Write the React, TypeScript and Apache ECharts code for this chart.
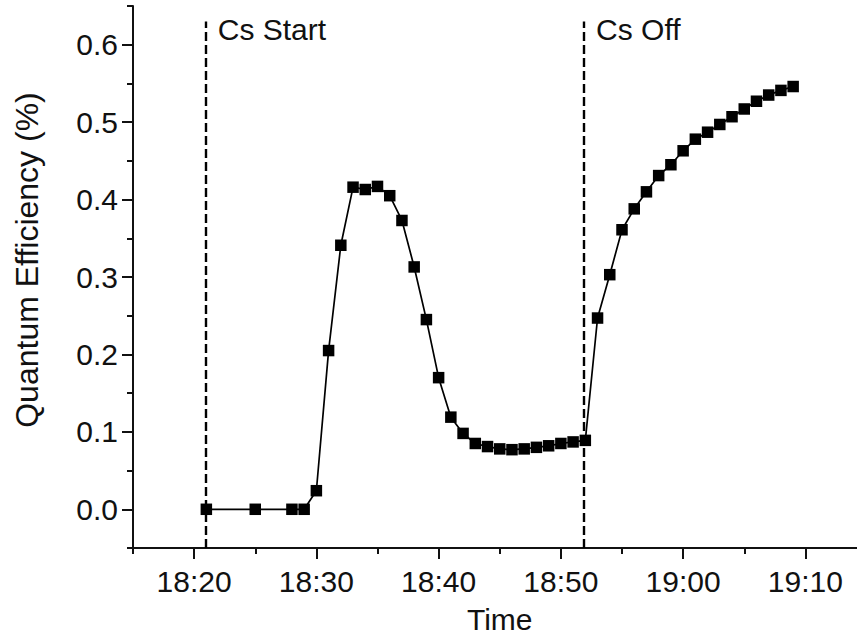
import React, { useEffect, useRef } from "react";
import * as echarts from "echarts";

// Measured time stamps (HH:MM) and quantum efficiency (%) values
const times = [
  "18:21", "18:25", "18:28", "18:29", "18:30", "18:31", "18:32", "18:33", "18:34", "18:35",
  "18:36", "18:37", "18:38", "18:39", "18:40", "18:41", "18:42", "18:43", "18:44", "18:45",
  "18:46", "18:47", "18:48", "18:49", "18:50", "18:51", "18:52", "18:53", "18:54", "18:55",
  "18:56", "18:57", "18:58", "18:59", "19:00", "19:01", "19:02", "19:03", "19:04", "19:05",
  "19:06", "19:07", "19:08", "19:09",
];
const qe = [
  0.0, 0.0, 0.0, 0.0, 0.024, 0.205, 0.341, 0.416, 0.413, 0.417,
  0.405, 0.373, 0.313, 0.245, 0.17, 0.119, 0.098, 0.085, 0.081, 0.078,
  0.077, 0.078, 0.08, 0.082, 0.085, 0.087, 0.089, 0.247, 0.303, 0.361,
  0.388, 0.41, 0.431, 0.445, 0.463, 0.478, 0.487, 0.497, 0.507, 0.517,
  0.527, 0.535, 0.541, 0.546,
];
const xTickLabels = ["18:20", "18:30", "18:40", "18:50", "19:00", "19:10"];
const yTickLabels = [0.0, 0.1, 0.2, 0.3, 0.4, 0.5, 0.6];
const events = [
  { label: "Cs Start", time: "18:20:57" },
  { label: "Cs Off", time: "18:51:54" },
];
const xMinLabel = "18:15";
const xMaxLabel = "19:15";
const yMin = -0.05;
const yMax = 0.65;

const toMin = (t: string) => {
  const p = t.split(":").map(Number);
  return p[0] * 60 + p[1] + (p[2] || 0) / 60;
};
const fmt = (m: number) => {
  const h = Math.floor(Math.round(m) / 60);
  const mm = Math.round(m) % 60;
  return `${h}:${mm < 10 ? "0" : ""}${mm}`;
};

const FONT = "'Liberation Sans', Arial, sans-serif";
const INK = "#111";
const FS = 30;

export default function App() {
  const ref = useRef<HTMLDivElement>(null);
  useEffect(() => {
    if (!ref.current) return;
    const chart = echarts.init(ref.current, null, { renderer: "svg" });
    const xMin = toMin(xMinLabel);
    const xMax = toMin(xMaxLabel);
    const majorX = xTickLabels.map(toMin);
    const data = times.map((t, i) => [toMin(t), qe[i]]);
    const grid = { left: 133, top: 6, right: -9.5, bottom: 89, containLabel: false, outerBoundsMode: "none" };
    chart.setOption({
      animation: false,
      backgroundColor: "#fff",
      grid,
      xAxis: [
        {
          type: "value",
          min: xMin,
          max: xMax,
          interval: 5,
          position: "bottom",
          axisLine: { show: true, onZero: false, lineStyle: { color: INK, width: 2 } },
          axisTick: { show: true, length: 6, lineStyle: { color: INK, width: 2 } },
          axisLabel: { show: false },
          splitLine: { show: false },
          name: "Time",
          nameLocation: "middle",
          nameGap: 56,
          nameTextStyle: { fontFamily: FONT, fontSize: FS, color: INK },
        },
        {
          type: "value",
          min: xMin,
          max: xMax,
          position: "bottom",
          axisLine: { show: false, onZero: false },
          axisTick: { show: true, length: 11, customValues: majorX, lineStyle: { color: INK, width: 2 } },
          axisLabel: {
            show: true,
            customValues: majorX,
            margin: 18,
            fontFamily: FONT,
            fontSize: FS,
            color: INK,
            formatter: (v: number) => fmt(v),
          },
          splitLine: { show: false },
        },
      ],
      yAxis: [
        {
          type: "value",
          min: yMin,
          max: yMax,
          interval: 0.05,
          position: "left",
          axisLine: { show: true, onZero: false, lineStyle: { color: INK, width: 2 } },
          axisTick: { show: true, length: 6, lineStyle: { color: INK, width: 2 } },
          axisLabel: { show: false },
          splitLine: { show: false },
          name: "Quantum Efficiency (%)",
          nameLocation: "middle",
          nameGap: 90,
          nameTextStyle: { fontFamily: FONT, fontSize: 32, color: INK, padding: [0, 0, 0, 34] },
        },
        {
          type: "value",
          min: yMin,
          max: yMax,
          position: "left",
          axisLine: { show: false, onZero: false },
          axisTick: { show: true, length: 11, customValues: yTickLabels, lineStyle: { color: INK, width: 2 } },
          axisLabel: {
            show: true,
            customValues: yTickLabels,
            margin: 15,
            fontFamily: FONT,
            fontSize: FS,
            color: INK,
            formatter: (v: number) => v.toFixed(1),
          },
          splitLine: { show: false },
        },
      ],
      series: [
        {
          type: "line",
          xAxisIndex: 0,
          yAxisIndex: 0,
          data,
          symbol: "rect",
          symbolSize: 11.5,
          showAllSymbol: true,
          itemStyle: { color: "#000" },
          lineStyle: { color: "#000", width: 1.7 },
          z: 3,
          markLine: {
            silent: true,
            symbol: ["none", "none"],
            label: { show: false },
            lineStyle: { color: "#000", type: [9, 4], width: 2.4 },
            z: 2,
            data: events.map((e) => [
              { coord: [toMin(e.time), yMin] },
              { coord: [toMin(e.time), 0.63] },
            ]),
          },
        },
      ],
    });
    const graphics = events.map((e) => {
      const px = chart.convertToPixel({ xAxisIndex: 0 }, toMin(e.time)) as number;
      return {
        type: "text",
        x: px + 12,
        y: 29,
        style: {
          text: e.label,
          fontFamily: FONT,
          fontSize: FS,
          fill: INK,
          verticalAlign: "middle",
        },
      };
    });
    chart.setOption({ graphic: graphics });
    return () => chart.dispose();
  }, []);
  return (
    <div
      ref={ref}
      style={{ position: "absolute", left: 0, top: 0, width: 857, height: 637 }}
    />
  );
}
